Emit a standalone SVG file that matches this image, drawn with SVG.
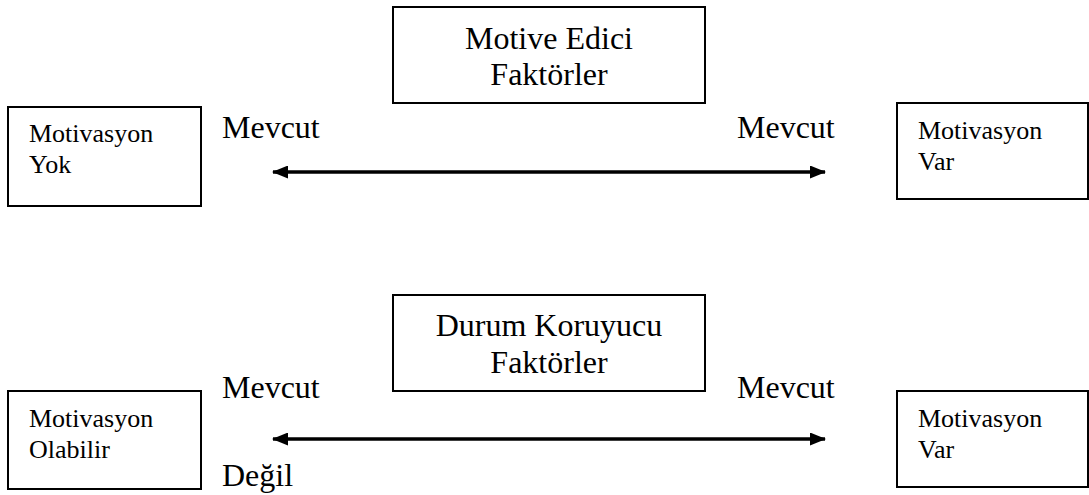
<svg xmlns="http://www.w3.org/2000/svg" width="1089" height="495" viewBox="0 0 1089 495">
<style>
.box{fill:#fff;stroke:#000;stroke-width:2}
.big{font-size:32px;fill:#000}
.small{font-size:26px;fill:#000}
.arr{stroke:#000;stroke-width:3.5;fill:none}
</style>
<defs>
<marker id="ah" markerUnits="userSpaceOnUse" markerWidth="16" markerHeight="13" refX="15" refY="6.5" orient="auto-start-reverse">
<path d="M0,0 L16,6.5 L0,13 Z" fill="#000"/>
</marker>
</defs>
<rect width="1089" height="495" fill="#fff"/>
<g font-family="'Liberation Serif', 'DejaVu Serif', serif">
<g id="motive-edici">
<rect class="box" x="393" y="7" width="312" height="96"/>
<text class="big" x="549" y="49" text-anchor="middle">Motive Edici</text>
<text class="big" x="549" y="85" text-anchor="middle">Faktörler</text>
</g>
<g id="motivasyon-yok">
<rect class="box" x="8" y="107" width="193" height="99"/>
<text class="small" x="29" y="142">Motivasyon</text>
<text class="small" x="29" y="173">Yok</text>
</g>
<g id="motivasyon-var-1">
<rect class="box" x="897" y="103" width="191" height="96"/>
<text class="small" x="918" y="139">Motivasyon</text>
<text class="small" x="918" y="170">Var</text>
</g>
<g id="durum-koruyucu">
<rect class="box" x="393" y="295" width="312" height="96"/>
<text class="big" x="549" y="336" text-anchor="middle">Durum Koruyucu</text>
<text class="big" x="549" y="373" text-anchor="middle">Faktörler</text>
</g>
<g id="motivasyon-olabilir">
<rect class="box" x="8" y="391" width="193" height="98"/>
<text class="small" x="29" y="427">Motivasyon</text>
<text class="small" x="29" y="458">Olabilir</text>
</g>
<g id="motivasyon-var-2">
<rect class="box" x="897" y="391" width="191" height="96"/>
<text class="small" x="918" y="427">Motivasyon</text>
<text class="small" x="918" y="458">Var</text>
</g>
<g id="labels">
<text class="big" x="222" y="138">Mevcut</text>
<text class="big" x="737" y="138">Mevcut</text>
<text class="big" x="222" y="398">Mevcut</text>
<text class="big" x="737" y="398">Mevcut</text>
<text class="big" x="222" y="486">Değil</text>
</g>
</g>
<g id="connectors">
<line class="arr" x1="273" y1="172" x2="825" y2="172" marker-start="url(#ah)" marker-end="url(#ah)"/>
<line class="arr" x1="273" y1="439" x2="825" y2="439" marker-start="url(#ah)" marker-end="url(#ah)"/>
</g>
</svg>
